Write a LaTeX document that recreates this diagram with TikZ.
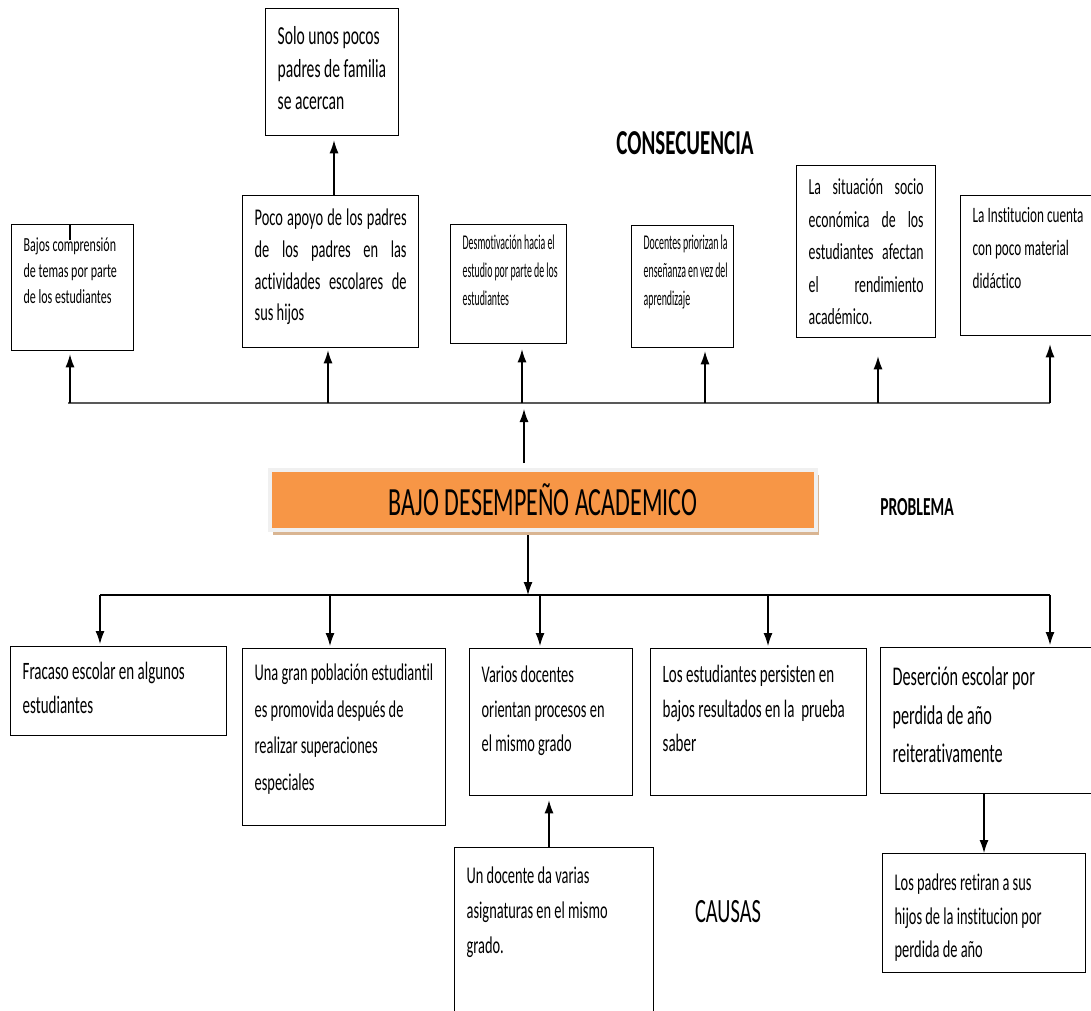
\documentclass[tikz,border=0pt]{standalone}
\usepackage{fontspec}
\setmainfont{Carlito}[FakeStretch=0.6, Ligatures=NoCommon]
\usetikzlibrary{arrows.meta, shadows}

\definecolor{naranja}{HTML}{F79646}
\definecolor{sombra}{HTML}{D9B592}

% text block inside a box: width, height, first baseline, font, text
\newcommand{\texto}[5]{\parbox[t][#2][t]{#1}{#4\rightskip=0pt minus 20pt\rule{0pt}{#3}#5}}

\tikzset{
    caja/.style={draw, line width=1.3pt, anchor=north west, inner xsep=12pt, inner ysep=0pt, fill=white},
    flecha/.style={-{Latex[length=13pt,width=9pt]}, line width=1.2pt},
    linea/.style={line width=2.5pt, draw=black!65},
    titulo/.style={inner sep=0pt}
}

\begin{document}
\begin{tikzpicture}[x=1pt, y=-1pt]
    \useasboundingbox (0,0) rectangle (1091,1010);
    \clip (0,0) rectangle (1091,1010);

    % consecuencias
    \node[caja] (solo) at (265,8) {\texto{109pt}{127pt}{36pt}{\fontsize{26}{32.5}\selectfont}{Solo unos pocos\\padres de familia\\se acercan}};
    \node[caja] (bajos) at (11,224) {\texto{98pt}{126pt}{27pt}{\fontsize{20}{26}\selectfont}{Bajos comprensión\\de temas por parte\\de los estudiantes}};
    \node[caja] (apoyo) at (242,195) {\texto{152pt}{152pt}{30pt}{\fontsize{24}{31.7}\selectfont}{Poco apoyo de los padres\linebreak de los padres en las\linebreak actividades escolares de\linebreak sus hijos}};
    \node[caja] (desmot) at (450,224) {\texto{92pt}{119pt}{25pt}{\addfontfeature{FakeStretch=0.47}\fontsize{21}{28}\selectfont}{Desmotivación hacia el\\estudio por parte de los\\estudiantes}};
    \node[caja] (priorizan) at (631,225) {\texto{78pt}{122pt}{24pt}{\addfontfeature{FakeStretch=0.47}\fontsize{21}{28}\selectfont}{Docentes priorizan la\\enseñanza en vez del\\aprendizaje}};
    \node[caja] (socio) at (796,165) {\texto{115pt}{172pt}{29pt}{\fontsize{23}{32.5}\selectfont}{La situación socio\linebreak económica de los\linebreak estudiantes afectan\linebreak el rendimiento\linebreak académico.}};
    \node[caja] (material) at (960,195) {\texto{126pt}{140pt}{27pt}{\fontsize{22}{33}\selectfont}{La Institucion cuenta\\con poco material\\didáctico}};
    \draw[line width=1.3pt] (bajos.north west) ++(59,0) -- ++(0,16);

    \node[titulo, font=\fontsize{35}{40}\selectfont\bfseries] (consec) at (685,143) {CONSECUENCIA};

    % problema
    \node[draw=black!6, line width=4pt, fill=naranja, minimum width=546pt, minimum height=60pt,
          drop shadow={shadow xshift=3pt, shadow yshift=-5pt, fill=sombra, opacity=1},
          font=\fontsize{40}{44}\selectfont] (problema) at (543,500) {BAJO DESEMPEÑO ACADEMICO};
    \node[titulo, font=\fontsize{26}{30}\selectfont\bfseries] (problab) at (917,507) {PROBLEMA};

    % linea de consecuencias
    \coordinate (t1) at (70,403);
    \coordinate (t2) at (328,403);
    \coordinate (t3) at (522,403);
    \coordinate (t4) at (705,403);
    \coordinate (t5) at (878,403);
    \coordinate (t6) at (1050,403);
    \coordinate (tc) at (524,403);
    \coordinate (ta) at (334,0);
    \draw[linea] (68,403) -- (t6);
    \draw[flecha, shorten >=3pt] (t1) -- (t1 |- bajos.south);
    \draw[flecha, shorten >=2pt] (t2) -- (t2 |- apoyo.south);
    \draw[flecha, shorten >=5pt] (t3) -- (t3 |- desmot.south);
    \draw[flecha, shorten >=3pt] (t4) -- (t4 |- priorizan.south);
    \draw[flecha, shorten >=18pt] (t5) -- (t5 |- socio.south);
    \draw[flecha, shorten >=8pt] (t6) -- (t6 |- material.south);
    \draw[flecha, shorten >=4pt] (ta |- apoyo.north) -- (ta |- solo.south);
    \draw[flecha, shorten <=5pt, shorten >=6pt] (problema.north -| tc) -- (tc);

    % causas
    \node[caja] (fracaso) at (10,646) {\texto{192pt}{89pt}{33pt}{\fontsize{25}{34}\selectfont}{Fracaso escolar en algunos\\estudiantes}};
    \node[caja] (poblacion) at (242,648) {\texto{179pt}{177pt}{32pt}{\fontsize{24}{36.5}\selectfont}{Una gran población estudiantil\\es promovida después de\\realizar superaciones\\especiales}};
    \node[caja] (varios) at (469,648) {\texto{139pt}{147pt}{34pt}{\fontsize{24}{34.5}\selectfont}{Varios docentes\\orientan procesos en\\el mismo grado}};
    \node[caja] (persisten) at (650,648) {\texto{192pt}{147pt}{34pt}{\fontsize{25}{34.5}\selectfont}{Los estudiantes persisten en\\bajos resultados en la\ \ prueba\\saber}};
    \node[caja] (desercion) at (880,647) {\texto{200pt}{146pt}{38pt}{\fontsize{27}{38.5}\selectfont}{Deserción escolar por\\perdida de año\\reiterativamente}};
    \node[caja] (undocente) at (454,847) {\texto{175pt}{180pt}{36pt}{\fontsize{24}{35}\selectfont}{Un docente da varias\\asignaturas en el mismo\\grado.}};
    \node[caja] (retiran) at (882,853) {\texto{179pt}{119pt}{37pt}{\fontsize{24}{33.5}\selectfont}{Los padres retiran a sus\\hijos de la institucion por\\perdida de año}};

    \node[titulo, font=\fontsize{34}{38}\selectfont] (causlab) at (728,912) {CAUSAS};

    % linea de causas
    \coordinate (b1) at (100,595);
    \coordinate (b2) at (330,595);
    \coordinate (b3) at (540,595);
    \coordinate (b4) at (768,595);
    \coordinate (b5) at (1050,595);
    \coordinate (bc) at (528,595);
    \coordinate (bu) at (549,0);
    \coordinate (bd) at (984,0);
    \draw[line width=2pt] (b1) -- (b5);
    \draw[flecha, shorten <=3pt] (problema.south -| bc) -- (bc);
    \draw[flecha, shorten >=2pt] (b1) -- (b1 |- fracaso.north);
    \draw[flecha, shorten >=2pt] (b2) -- (b2 |- poblacion.north);
    \draw[flecha, shorten >=2pt] (b3) -- (b3 |- varios.north);
    \draw[flecha, shorten >=2pt] (b4) -- (b4 |- persisten.north);
    \draw[flecha, shorten >=2pt] (b5) -- (b5 |- desercion.north);
    \draw[flecha, shorten >=4pt] (bu |- undocente.north) -- (bu |- varios.south);
    \draw[flecha] (bd |- desercion.south) -- (bd |- retiran.north);
\end{tikzpicture}
\end{document}
